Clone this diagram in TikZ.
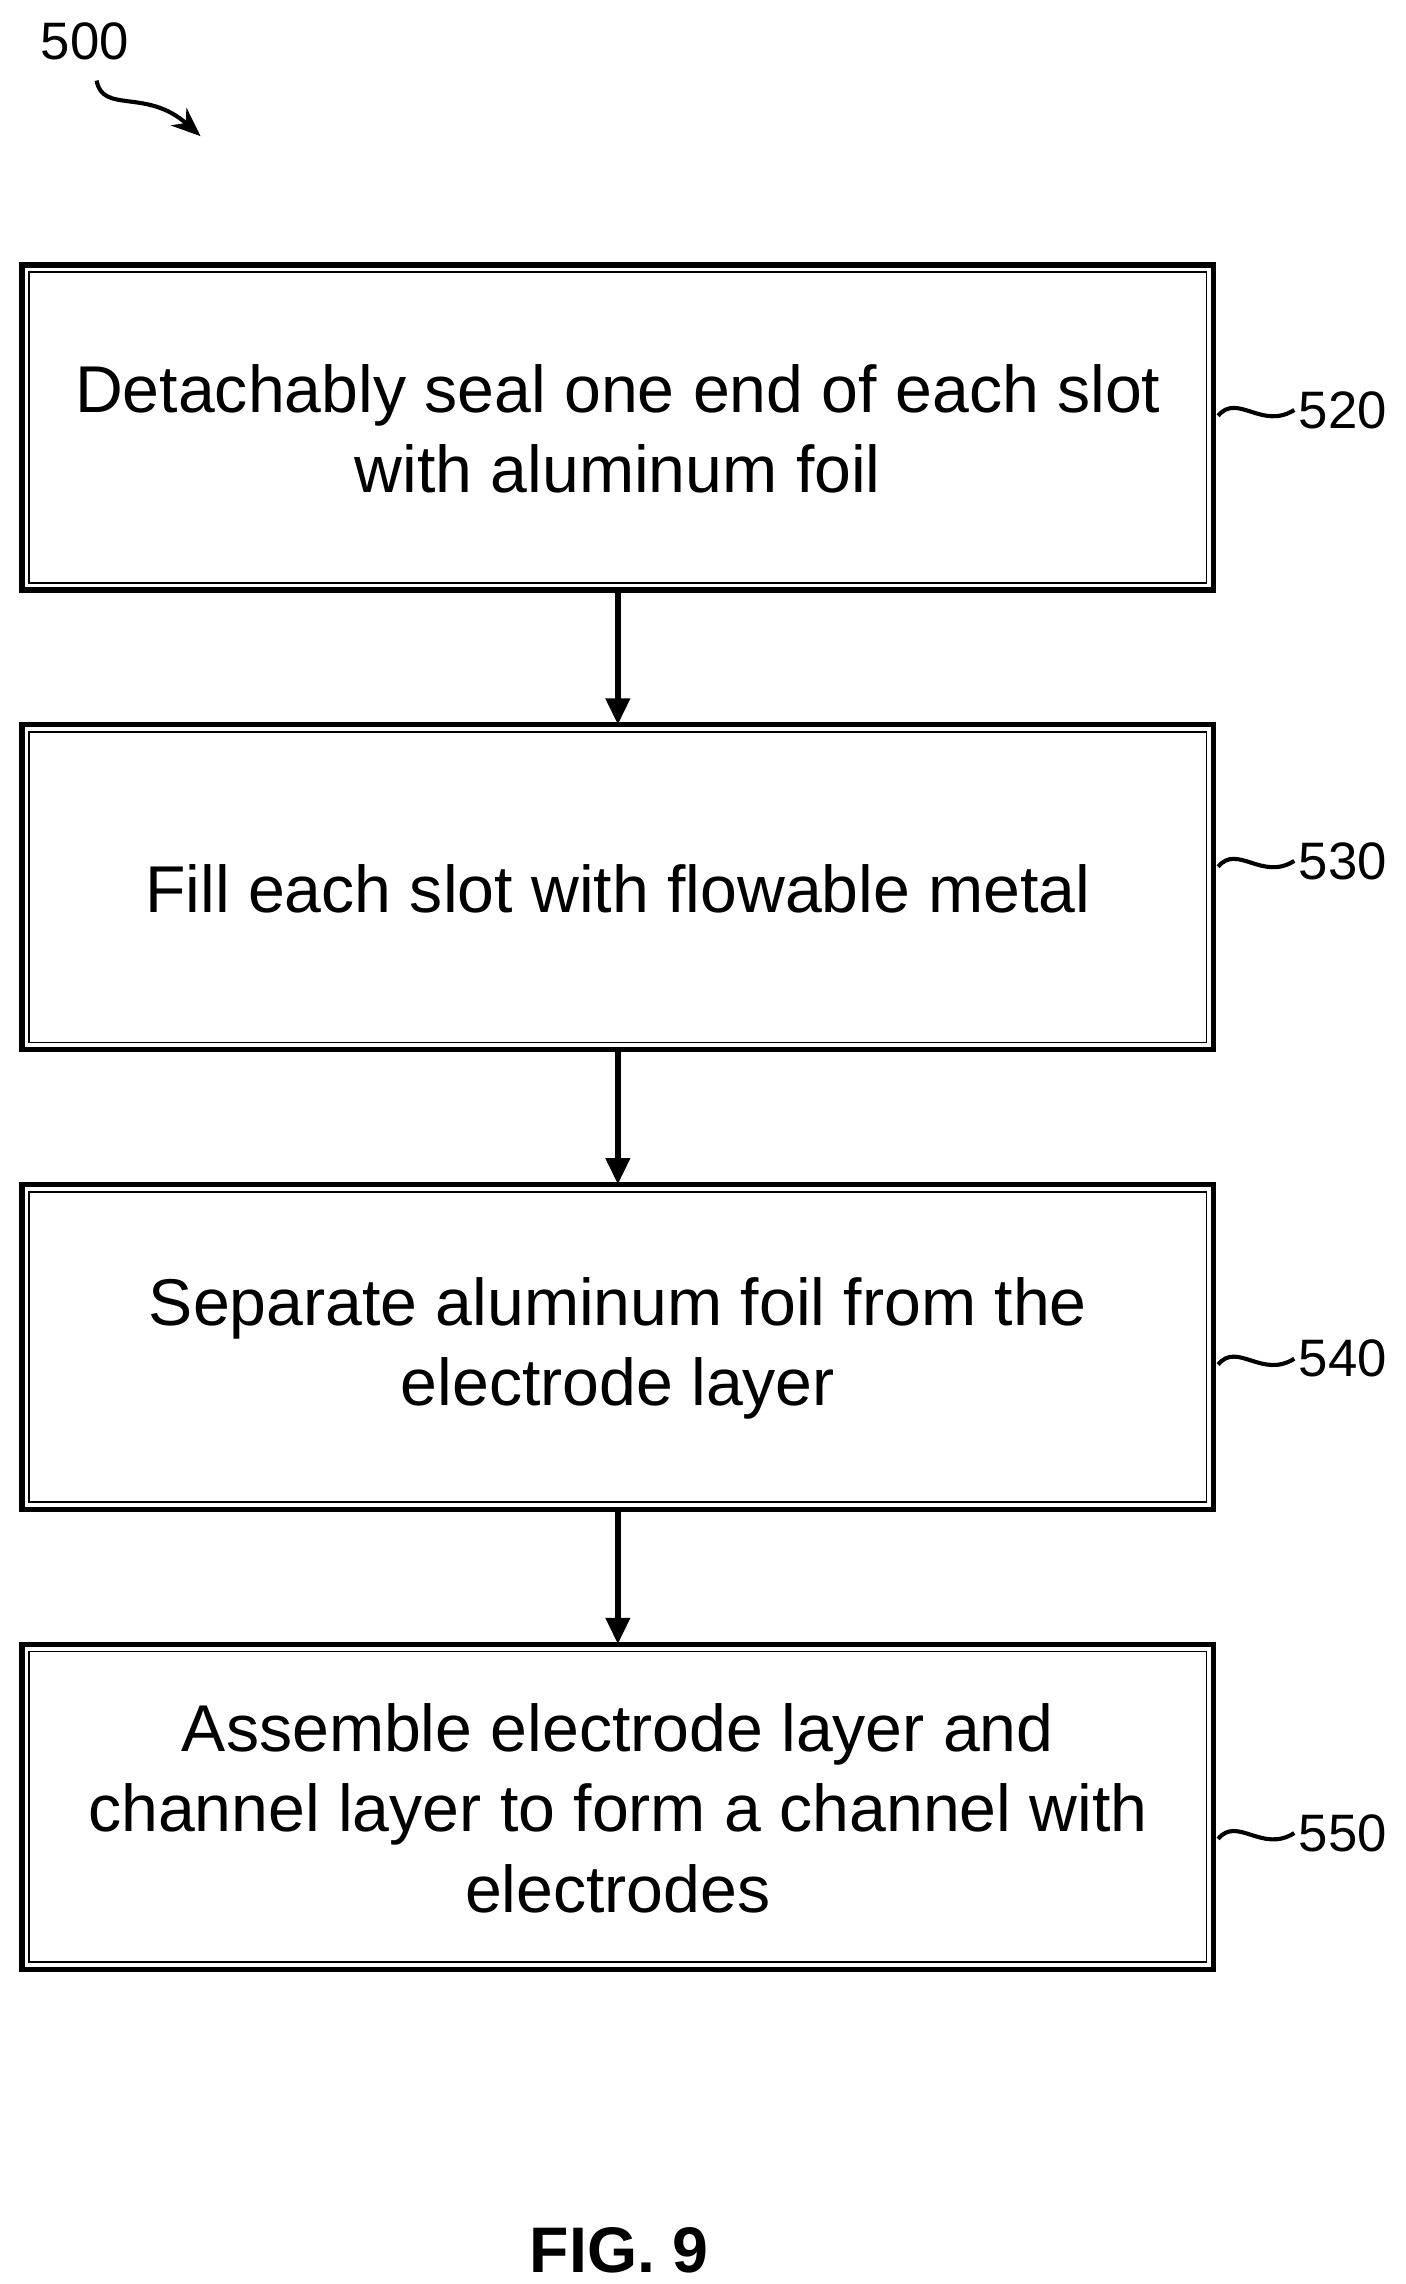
\documentclass[tikz,border=0pt]{standalone}
\usepackage{fontspec}
\setmainfont{Liberation Sans}
\usetikzlibrary{arrows.meta}
\begin{document}
\begin{tikzpicture}[x=0.5pt,y=-0.5pt,
  box/.style={draw=none,align=center,font=\fontsize{22.6}{27.5}\selectfont},
  lbl/.style={font=\fontsize{18}{20}\selectfont,anchor=west},
  arr/.style={line width=2pt,-{Triangle[length=9pt,width=8pt]}},
  sq/.style={line width=1.4pt}]
\useasboundingbox (0,0) rectangle (960,1560);
\foreach \n/\y in {a/181,b/495,c/809,d/1123}{
  \draw[line width=1.8pt] (15,\y) rectangle (829,\y+222);
  \draw[line width=0.6pt] (20,\y+5) rectangle (824,\y+217);
}
\node[box] (a) at (422,293) {Detachably seal one end of each slot\\with aluminum foil};
\node[box] (b) at (422,607) {Fill each slot with flowable metal};
\node[box] (c) at (422,921) {Separate aluminum foil from the\\electrode layer};
\node[box] (d) at (422,1235) {Assemble electrode layer and\\channel layer to form a channel with\\electrodes};
\draw[arr] (422,403) -- (422,495);
\draw[arr] (422,717) -- (422,809);
\draw[arr] (422,1031) -- (422,1123);
\foreach \y/\t in {280/520,588/530,928/540,1252/550}{
  \draw[sq] (832,\y+4) .. controls (845,\y-12) and (862,\y+14) .. (884,\y);
  \node[lbl] at (880,\y) {\t};
}
\node[lbl,anchor=center] (n500) at (58,28) {500};
\draw[sq,-{Stealth[length=10pt,width=8pt]}] (66,55) .. controls (70,78) and (100,60) .. (137,93);
\node[font=\bfseries\fontsize{22}{26}\selectfont] (fig) at (423,1537) {FIG. 9};
\end{tikzpicture}
\end{document}
